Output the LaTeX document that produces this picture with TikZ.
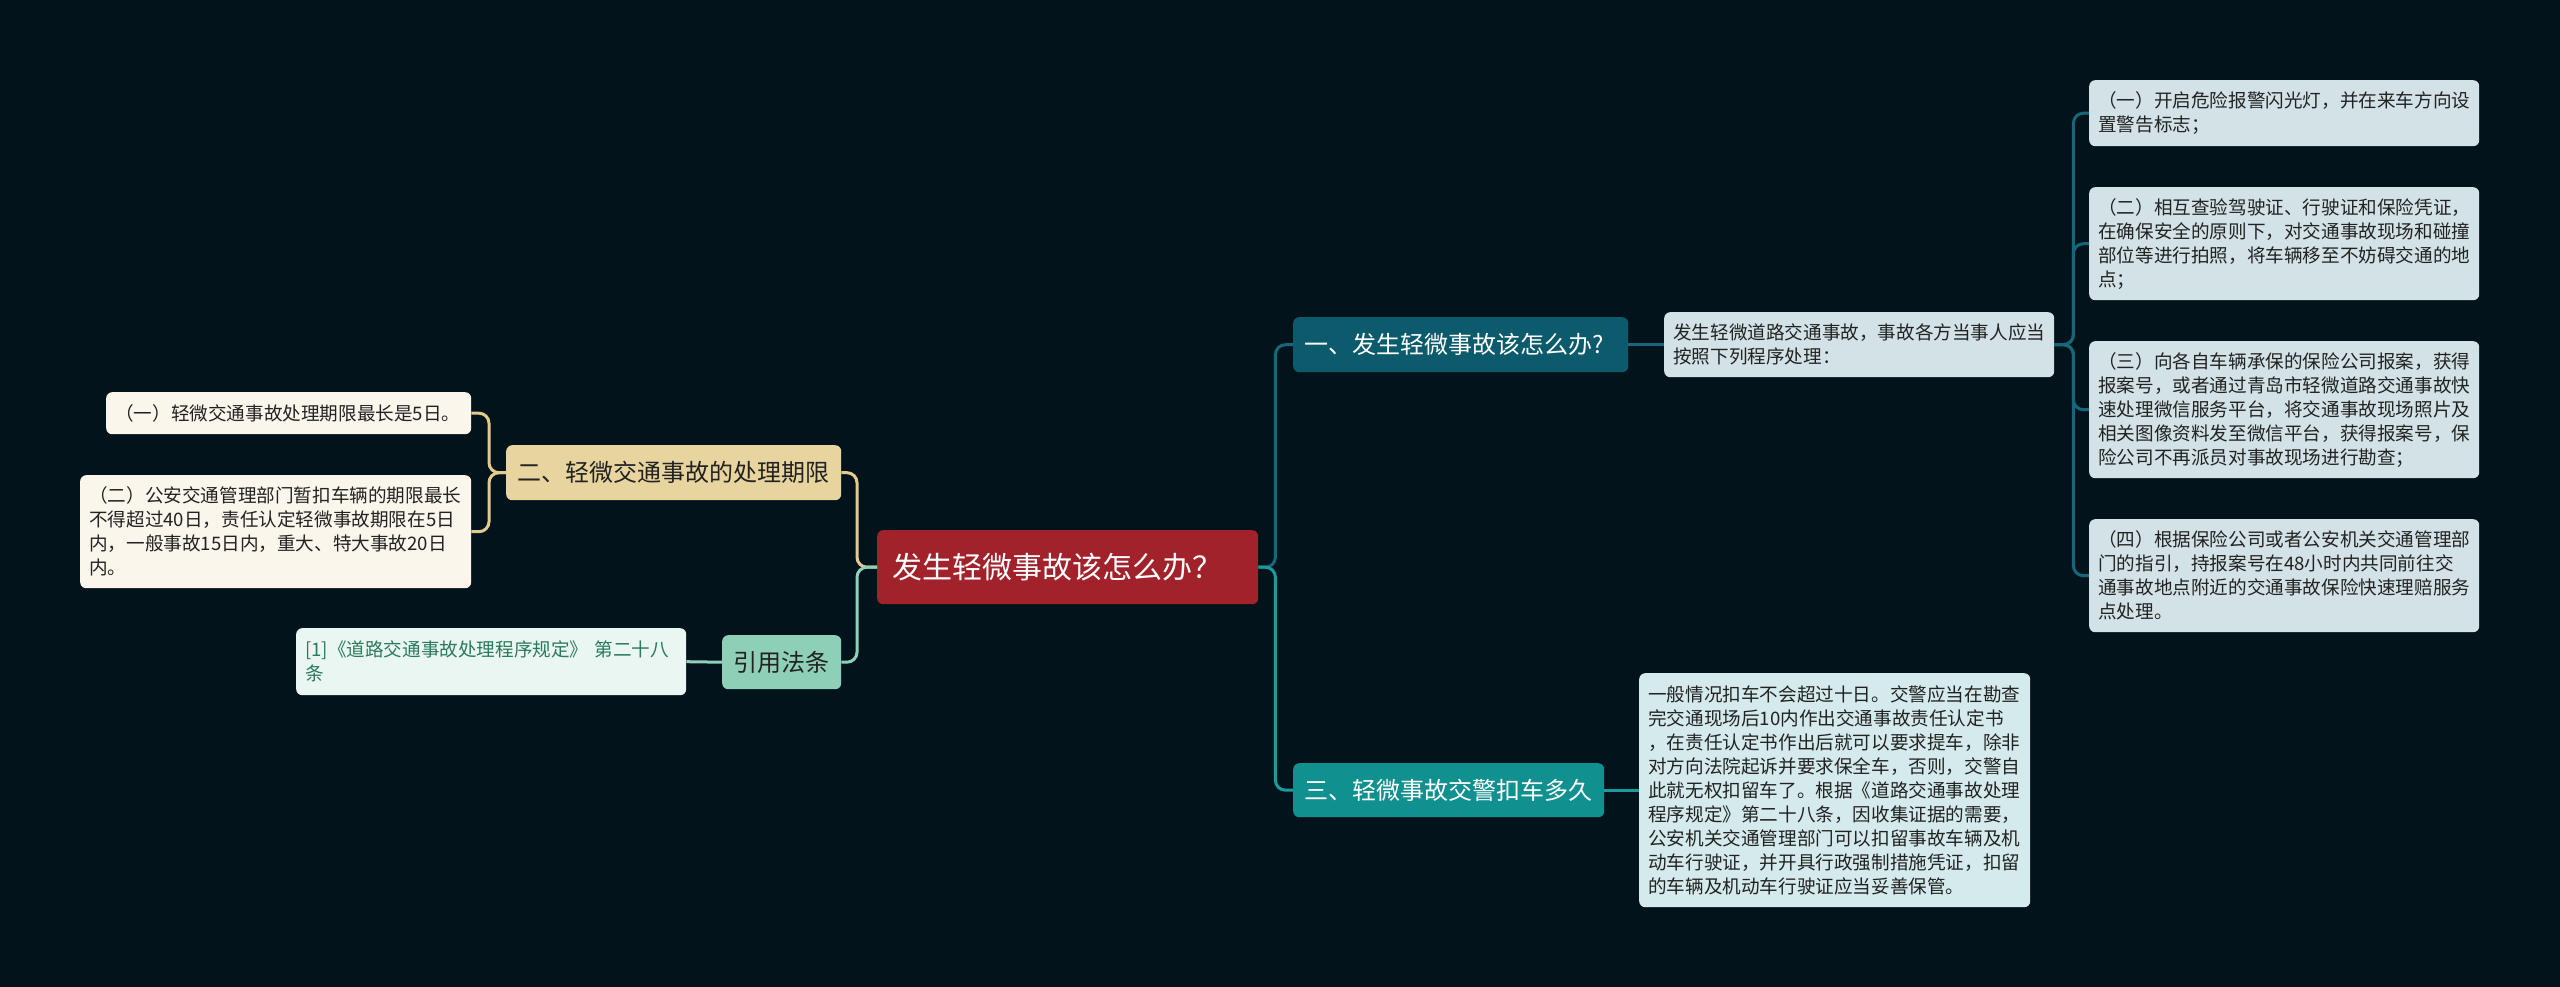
\documentclass[tikz,border=0pt]{standalone}
\usepackage{fontspec}
\setmainfont{Noto Sans CJK SC}
\definecolor{cBg}{HTML}{03131B}
\definecolor{cRed}{HTML}{A1222A}
\definecolor{cTealDark}{HTML}{0C5B6C}
\definecolor{cTealDarkLine}{HTML}{17677A}
\definecolor{cTeal}{HTML}{10908F}
\definecolor{cTealLine}{HTML}{1A9C9C}
\definecolor{cLeafBlue}{HTML}{D2E2E7}
\definecolor{cLeafCyan}{HTML}{D4EAEC}
\definecolor{cTan}{HTML}{E8D49E}
\definecolor{cTanLine}{HTML}{E2CB8C}
\definecolor{cCream}{HTML}{FBF6EC}
\definecolor{cMint}{HTML}{8ECFB7}
\definecolor{cMintLine}{HTML}{8FD0BA}
\definecolor{cMintLight}{HTML}{EAF6F2}
\definecolor{cCiteText}{HTML}{2A7A5C}
\definecolor{cDarkText}{HTML}{222222}
\begin{document}
\begin{tikzpicture}[x=1pt,y=-1pt,
  leaf/.style={rectangle, rounded corners=6pt, anchor=north west, inner xsep=9pt, inner ysep=0pt,
    align=left, text=cDarkText, font=\fontsize{18.6}{24}\selectfont},
  mainbox/.style={rectangle, rounded corners=6pt, anchor=north west, inner sep=0pt,
    font=\fontsize{24}{30}\selectfont},
  conn/.style={line width=3pt, rounded corners=10pt}
]
\useasboundingbox (0,0) rectangle (2560,987);
\fill[cBg] (0,0) rectangle (2560,987);

% main nodes
\node[mainbox, fill=cRed, text=white, font=\fontsize{30}{36}\selectfont, inner xsep=15pt, text width=351, align=left, minimum height=74] (center) at (877,530) {发生轻微事故该怎么办？};
\node[mainbox, fill=cTealDark, text=white, inner xsep=11pt, text width=313, align=left, minimum height=55] (n1) at (1293,317) {一、发生轻微事故该怎么办?};
\node[mainbox, fill=cTeal, text=white, minimum width=311, minimum height=54] (n3) at (1293,763) {三、轻微事故交警扣车多久};
\node[mainbox, fill=cTan, text=cDarkText, minimum width=335, minimum height=55] (n2) at (506,445) {二、轻微交通事故的处理期限};
\node[mainbox, fill=cMint, text=cDarkText, minimum width=119, minimum height=54] (ncite) at (722,635) {引用法条};

% right details
\node[leaf, fill=cLeafBlue, text width=372, minimum height=65] (d1) at (1664,312) {发生轻微道路交通事故，事故各方当事人应当\\按照下列程序处理：};
\node[leaf, fill=cLeafBlue, text width=372, minimum height=66] (r1) at (2089,80) {（一）开启危险报警闪光灯，并在来车方向设\\置警告标志；};
\node[leaf, fill=cLeafBlue, text width=372, minimum height=113] (r2) at (2089,187) {（二）相互查验驾驶证、行驶证和保险凭证，\\在确保安全的原则下，对交通事故现场和碰撞\\部位等进行拍照，将车辆移至不妨碍交通的地\\点；};
\node[leaf, fill=cLeafBlue, text width=372, minimum height=137] (r3) at (2089,341) {（三）向各自车辆承保的保险公司报案，获得\\报案号，或者通过青岛市轻微道路交通事故快\\速处理微信服务平台，将交通事故现场照片及\\相关图像资料发至微信平台，获得报案号，保\\险公司不再派员对事故现场进行勘查；};
\node[leaf, fill=cLeafBlue, text width=372, minimum height=113] (r4) at (2089,519) {（四）根据保险公司或者公安机关交通管理部\\门的指引，持报案号在48小时内共同前往交\\通事故地点附近的交通事故保险快速理赔服务\\点处理。};
\node[leaf, fill=cLeafCyan, text width=373, minimum height=234] (d3) at (1639,673) {一般情况扣车不会超过十日。交警应当在勘查\\完交通现场后10内作出交通事故责任认定书\\，在责任认定书作出后就可以要求提车，除非\\对方向法院起诉并要求保全车，否则，交警自\\此就无权扣留车了。根据《道路交通事故处理\\程序规定》第二十八条，因收集证据的需要，\\公安机关交通管理部门可以扣留事故车辆及机\\动车行驶证，并开具行政强制措施凭证，扣留\\的车辆及机动车行驶证应当妥善保管。};

% left details
\node[leaf, fill=cCream, text=cDarkText, text width=347, minimum height=42] (l1) at (106,392) {（一）轻微交通事故处理期限最长是5日。};
\node[leaf, fill=cCream, text=cDarkText, text width=373, minimum height=113] (l2) at (80,475) {（二）公安交通管理部门暂扣车辆的期限最长\\不得超过40日，责任认定轻微事故期限在5日\\内，一般事故15日内，重大、特大事故20日\\内。};
\node[leaf, fill=cMintLight, text=cCiteText, text width=372, minimum height=67] (cite) at (296,628) {[1]《道路交通事故处理程序规定》 第二十八\\条};

% connectors right
\draw[conn, cTealDarkLine] (center.east) -- ++(17,0) |- (n1.west);
\draw[conn, cTealLine] (center.east) -- ++(17,0) |- (n3.west);
\draw[conn, cTealDarkLine] (n1.east) -- (d1.west);
\draw[conn, cTealLine] (n3.east) -- (d3.west);
\foreach \r in {r1,r2,r3,r4}
  \draw[conn, cTealDarkLine] (d1.east) -- ++(19,0) |- (\r.west);

% connectors left
\draw[conn, cTanLine] (center.west) -- ++(-20,0) |- (n2.east);
\draw[conn, cMintLine] (center.west) -- ++(-20,0) |- (ncite.east);
\draw[conn, cTanLine] (n2.west) -- ++(-17,0) |- (l1.east);
\draw[conn, cTanLine] (n2.west) -- ++(-17,0) |- (l2.east);
\draw[conn, cMintLine] (ncite.west) -- (cite.east);
\end{tikzpicture}
\end{document}
